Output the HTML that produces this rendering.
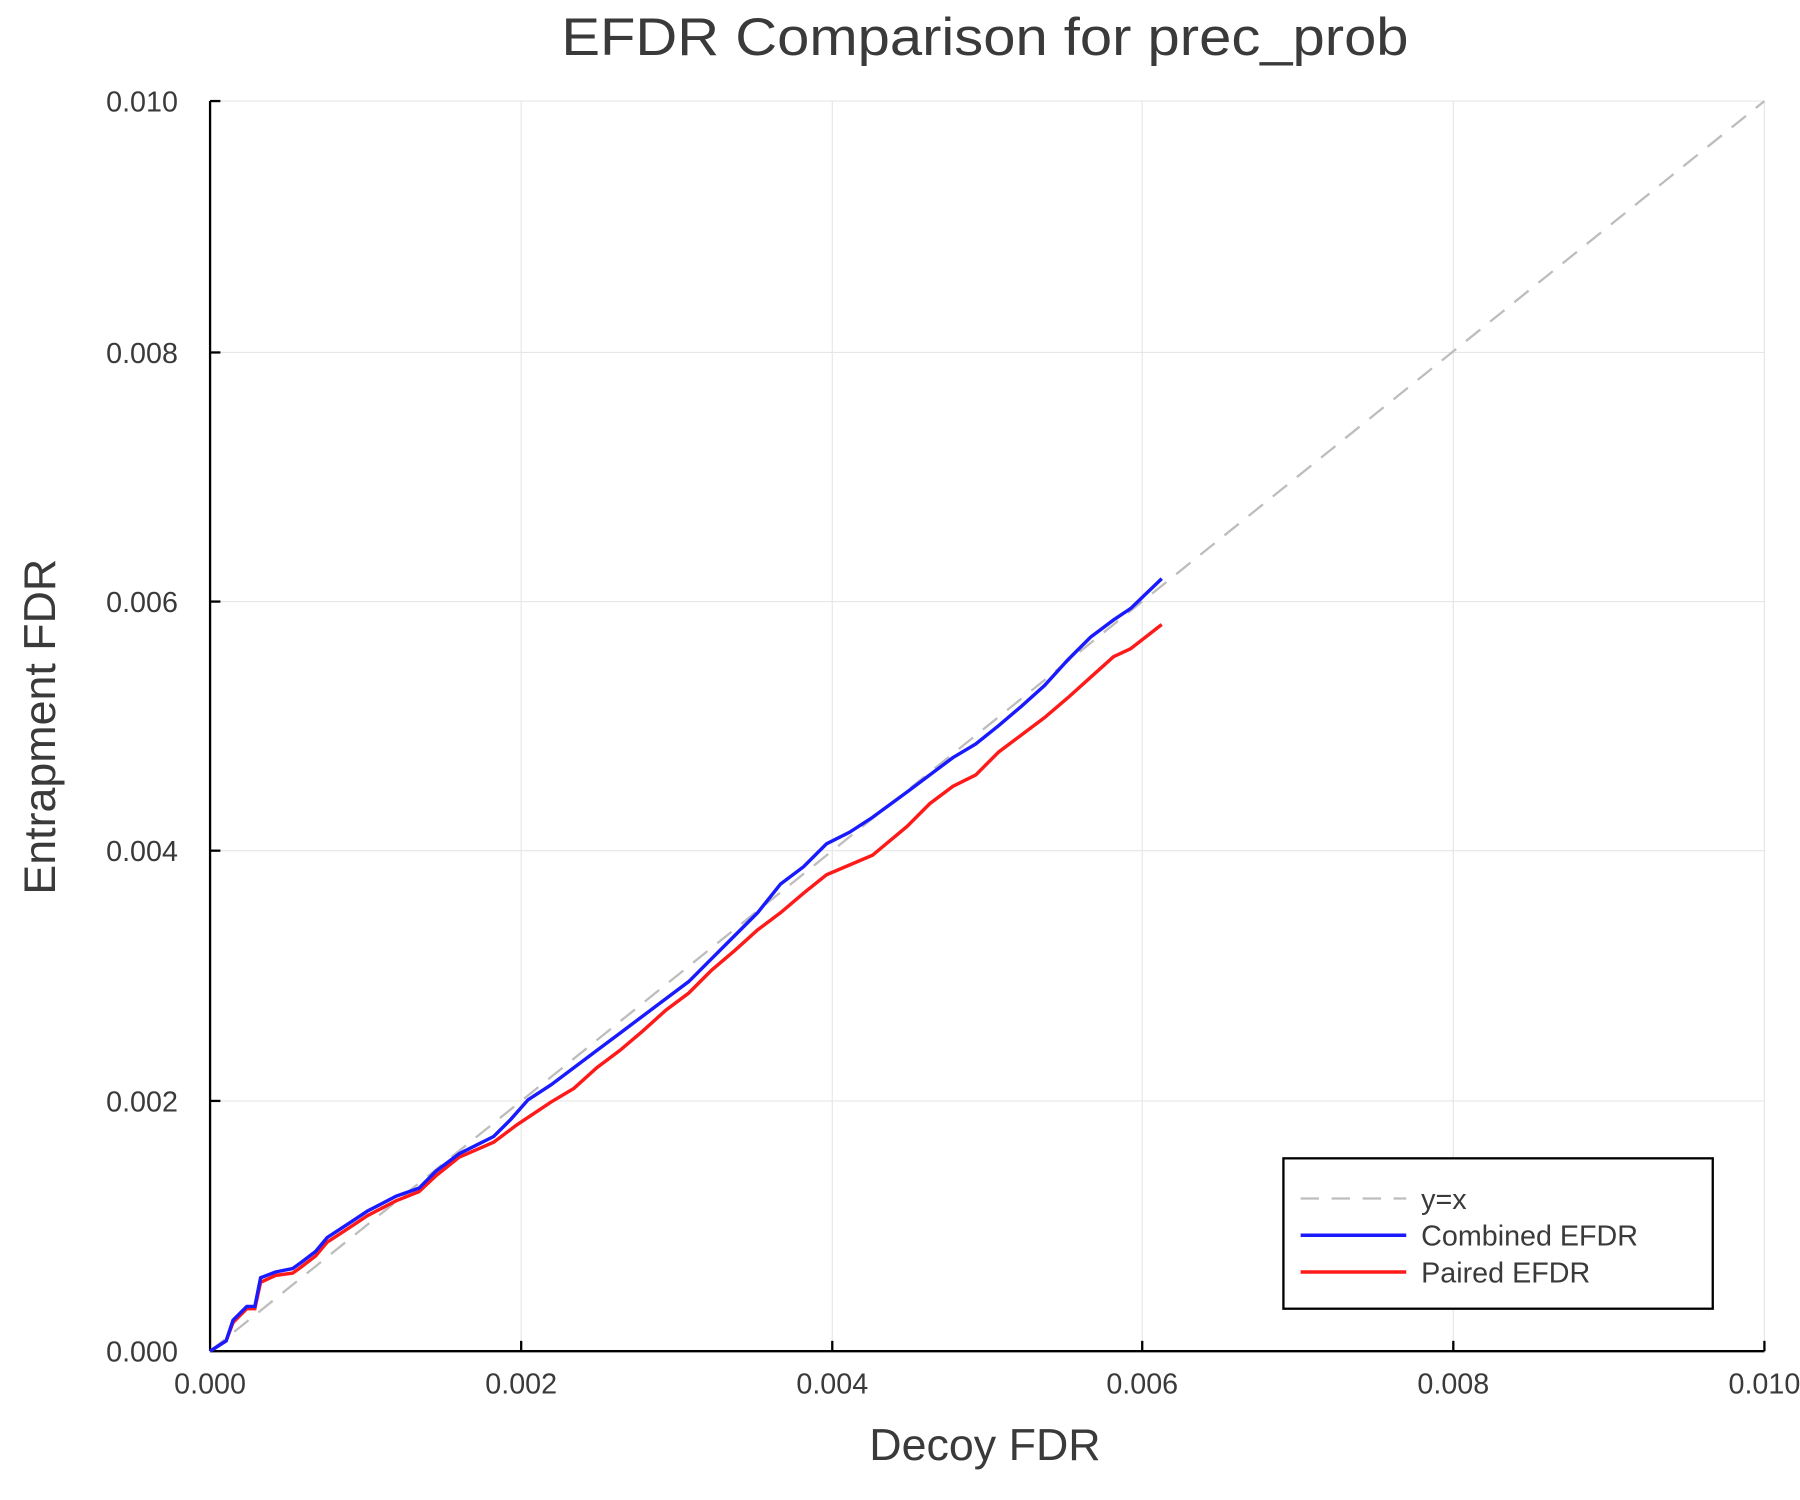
<!DOCTYPE html>
<html><head><style>body{margin:0;background:#fff}svg{display:block}</style></head><body>
<svg width="1800" height="1500" viewBox="0 0 1568 1306.6" xmlns="http://www.w3.org/2000/svg" font-family="Liberation Sans, sans-serif">
<rect width="1568" height="1306.6" fill="#fff"/>
<text x="858" y="48" font-size="46" fill="#3a3a3a" text-anchor="middle" textLength="738" lengthAdjust="spacingAndGlyphs">EFDR Comparison for prec_prob</text>
<g stroke="#e6e6e6" stroke-width="1">
<line x1="454" y1="88" x2="454" y2="1177"/><line x1="725" y1="88" x2="725" y2="1177"/><line x1="995" y1="88" x2="995" y2="1177"/><line x1="1266" y1="88" x2="1266" y2="1177"/><line x1="1537" y1="88" x2="1537" y2="1177"/>
<line x1="183" y1="959" x2="1537" y2="959"/><line x1="183" y1="741" x2="1537" y2="741"/><line x1="183" y1="524" x2="1537" y2="524"/><line x1="183" y1="307" x2="1537" y2="307"/><line x1="183" y1="88" x2="1537" y2="88"/>
</g>
<g stroke="#000" stroke-width="2">
<line x1="183" y1="1177" x2="1537" y2="1177"/><line x1="183" y1="88" x2="183" y2="1177"/>
<line x1="454" y1="1177" x2="454" y2="1168"/><line x1="725" y1="1177" x2="725" y2="1168"/><line x1="995" y1="1177" x2="995" y2="1168"/><line x1="1266" y1="1177" x2="1266" y2="1168"/><line x1="1537" y1="1177" x2="1537" y2="1168"/>
<line x1="183" y1="959" x2="192" y2="959"/><line x1="183" y1="741" x2="192" y2="741"/><line x1="183" y1="524" x2="192" y2="524"/><line x1="183" y1="307" x2="192" y2="307"/><line x1="183" y1="88" x2="192" y2="88"/>
</g>
<g font-size="25" fill="#3a3a3a" text-anchor="middle">
<text x="183" y="1214">0.000</text><text x="454" y="1214">0.002</text><text x="725" y="1214">0.004</text><text x="995" y="1214">0.006</text><text x="1266" y="1214">0.008</text><text x="1537" y="1214">0.010</text>
</g>
<g font-size="25" fill="#3a3a3a" text-anchor="end">
<text x="155" y="1186">0.000</text><text x="155" y="968">0.002</text><text x="155" y="750">0.004</text><text x="155" y="533">0.006</text><text x="155" y="316">0.008</text><text x="155" y="97">0.010</text>
</g>
<text x="858" y="1272" font-size="39" fill="#3a3a3a" text-anchor="middle">Decoy FDR</text>
<text transform="translate(48,633) rotate(-90)" font-size="39" fill="#3a3a3a" text-anchor="middle">Entrapment FDR</text>
<line x1="183" y1="1177" x2="1537" y2="88" stroke="#bdbdbd" stroke-width="2" stroke-dasharray="16,11"/>
<polyline fill="none" stroke="#ff1a1a" stroke-width="3" points="183,1177 197,1168 203,1152 215,1140 222,1140 227,1117 240,1111 255,1109 262,1104 275,1094 285,1082 305,1069 320,1059 345,1046 365,1038 380,1024 400,1008 430,995 450,980 480,960 500,948 520,930 540,915 560,898 580,880 600,865 620,845 640,828 660,810 680,795 700,778 720,762 760,745 790,720 810,700 830,685 850,675 870,655 890,640 910,625 930,608 950,590 970,572 985,565 1012,544"/>
<polyline fill="none" stroke="#1a1aff" stroke-width="3" points="183,1177 197,1168 203,1150 215,1138 222,1138 227,1113 240,1108 255,1105 262,1100 275,1090 285,1078 305,1065 320,1055 345,1042 365,1035 380,1020 400,1005 430,990 445,975 460,958 480,945 500,930 520,915 540,900 560,885 580,870 600,855 620,835 640,815 660,795 680,770 700,755 720,735 740,725 760,712 790,690 810,675 830,660 850,648 870,632 890,615 910,597 930,575 950,555 970,540 985,530 1012,504"/>
<rect x="1118" y="1009" width="374" height="131" fill="#fff" stroke="#000" stroke-width="2"/>
<line x1="1133" y1="1044" x2="1225" y2="1044" stroke="#bdbdbd" stroke-width="2" stroke-dasharray="16,11"/>
<line x1="1133" y1="1076" x2="1225" y2="1076" stroke="#1a1aff" stroke-width="3"/>
<line x1="1133" y1="1108" x2="1225" y2="1108" stroke="#ff1a1a" stroke-width="3"/>
<g font-size="25" fill="#3a3a3a">
<text x="1238" y="1053">y=x</text><text x="1238" y="1085">Combined EFDR</text><text x="1238" y="1117">Paired EFDR</text>
</g>
</svg>
</body></html>
